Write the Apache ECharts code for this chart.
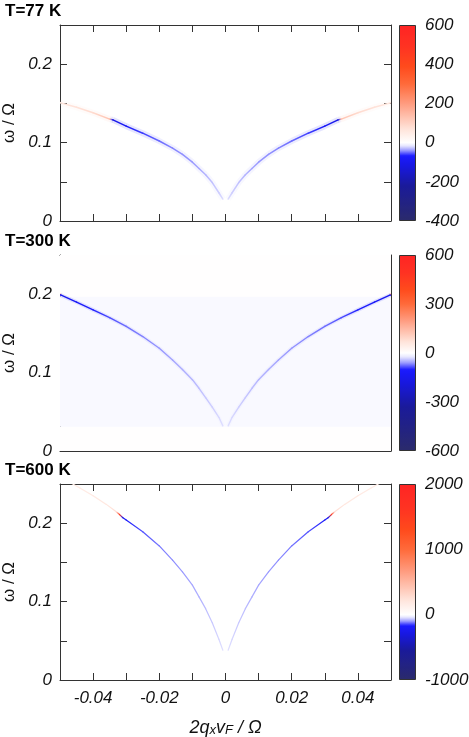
<!DOCTYPE html>
<html>
<head>
<meta charset="utf-8">
<script src="https://cdn.jsdelivr.net/npm/echarts@6/dist/echarts.min.js"></script>
<style>
  html, body { margin: 0; padding: 0; background: #fff; }
  #chart { width: 469px; height: 737px; }
</style>
</head>
<body>
<div id="chart"></div>
<script>
// panel titles and colour-bar ranges
const titles = ['T=77 K', 'T=300 K', 'T=600 K']
const cbMin = [-400, -600, -1000]
const cbMax = [600, 600, 2000]
const cbStep = [200, 300, 1000]

// T=77 K : left branch (q<0) and right branch (q>0)
const q77L = [-0.050, -0.045, -0.040, -0.035, -0.034, -0.030, -0.025, -0.020, -0.016, -0.013, -0.010, -0.008, -0.006, -0.004, -0.002, -0.0008]
const w77L = [0.151, 0.145, 0.138, 0.130, 0.129, 0.121, 0.112, 0.102, 0.093, 0.085, 0.075, 0.067, 0.059, 0.049, 0.036, 0.028]
const v77L = [60, 70, 85, 130, -110, -80, -60, -50, -45, -42, -40, -36, -32, -28, -24, -20]
const q77R = [0.0008, 0.002, 0.004, 0.006, 0.008, 0.010, 0.013, 0.016, 0.020, 0.025, 0.030, 0.034, 0.035, 0.040, 0.045, 0.050]
const w77R = [0.028, 0.036, 0.049, 0.059, 0.067, 0.075, 0.085, 0.093, 0.102, 0.112, 0.121, 0.129, 0.130, 0.138, 0.145, 0.151]
const v77R = [-20, -24, -28, -32, -36, -40, -42, -45, -50, -60, -80, -110, 130, 85, 70, 60]

// T=300 K
const q300L = [-0.050, -0.0498, -0.045, -0.040, -0.035, -0.030, -0.025, -0.020, -0.016, -0.013, -0.010, -0.008, -0.006, -0.004, -0.002, -0.0008]
const w300L = [0.200, 0.199, 0.190, 0.180, 0.170, 0.159, 0.146, 0.131, 0.116, 0.104, 0.091, 0.080, 0.068, 0.056, 0.043, 0.032]
const v300L = [300, -150, -120, -100, -85, -75, -68, -62, -56, -52, -48, -44, -40, -36, -32, -28]
const q300R = [0.0008, 0.002, 0.004, 0.006, 0.008, 0.010, 0.013, 0.016, 0.020, 0.025, 0.030, 0.035, 0.040, 0.045, 0.0498, 0.050]
const w300R = [0.032, 0.043, 0.056, 0.068, 0.080, 0.091, 0.104, 0.116, 0.131, 0.146, 0.159, 0.170, 0.180, 0.190, 0.199, 0.200]
const v300R = [-28, -32, -36, -40, -44, -48, -52, -56, -62, -68, -75, -85, -100, -120, -150, 300]
// T=300 K background bands (omega low, omega high, value)
const band300Lo = [0, 0.031, 0.197]
const band300Hi = [0.031, 0.197, 0.25]
const band300V = [2, -6, 2]

// T=600 K
const q600L = [-0.047, -0.044, -0.040, -0.036, -0.033, -0.032, -0.031, -0.030, -0.025, -0.020, -0.016, -0.013, -0.010, -0.008, -0.006, -0.004, -0.002, -0.0008]
const w600L = [0.252, 0.245, 0.235, 0.224, 0.2145, 0.211, 0.207, 0.204, 0.189, 0.171, 0.153, 0.138, 0.121, 0.106, 0.091, 0.073, 0.052, 0.038]
const v600L = [160, 170, 180, 200, 260, 1500, -230, -190, -140, -120, -108, -100, -92, -84, -75, -65, -55, -45]
const q600R = [0.0008, 0.002, 0.004, 0.006, 0.008, 0.010, 0.013, 0.016, 0.020, 0.025, 0.030, 0.031, 0.032, 0.033, 0.036, 0.040, 0.044, 0.047]
const w600R = [0.038, 0.052, 0.073, 0.091, 0.106, 0.121, 0.138, 0.153, 0.171, 0.189, 0.204, 0.207, 0.211, 0.2145, 0.224, 0.235, 0.245, 0.252]
const v600R = [-45, -55, -65, -75, -84, -92, -100, -108, -120, -140, -190, -230, 1500, 260, 200, 180, 170, 160]

const branches = [
  [[q77L, w77L, v77L], [q77R, w77R, v77R]],
  [[q300L, w300L, v300L], [q300R, w300R, v300R]],
  [[q600L, w600L, v600L], [q600R, w600R, v600R]]
]

const FONT = 'Liberation Sans'
const AXIS = '#333'
const tops = [25, 255, 484]
const plotH = 196
const haloW = [6, 4, 0]
const coreW = [1.5, 1.4, 1.2]

// colour map, white at 0, separate scaling for negative/positive side
const negStops = [[0, '#ffffff'], [0.04, '#e8e8ff'], [0.1, '#9a9aff'], [0.17, '#1a1aff'], [0.3, '#1818e0'], [0.55, '#1a1a9a'], [1, '#2b2b6b']]
const posStops = [[0, '#ffffff'], [0.12, '#ffe2d8'], [0.33, '#ff9c80'], [0.5, '#ff6a3a'], [0.65, '#ff4a1c'], [0.82, '#ff3222'], [1, '#ff2424']]

function hex (c) {
  return [1, 3, 5].map(i => parseInt(c.substr(i, 2), 16))
}
function fromStops (stops, t) {
  for (let i = 1; i < stops.length; i++) {
    if (t <= stops[i][0]) {
      const a = hex(stops[i - 1][1])
      const b = hex(stops[i][1])
      const f = (t - stops[i - 1][0]) / (stops[i][0] - stops[i - 1][0])
      return 'rgb(' + a.map((x, k) => Math.round(x + (b[k] - x) * f)).join(',') + ')'
    }
  }
  return stops[stops.length - 1][1]
}
function colorAt (v, min, max) {
  return v < 0 ? fromStops(negStops, v / min) : fromStops(posStops, v / max)
}
function palette (min, max, n) {
  const out = []
  for (let i = 0; i < n; i++) out.push(colorAt(min + (max - min) * i / (n - 1), min, max))
  return out
}

function xLabel (v) {
  const k = Math.round(v * 100)
  if (k % 2 !== 0 || Math.abs(k) === 5) return ''
  return k === 0 ? '0' : (k / 100).toFixed(2)
}
function yLabel (v) {
  const k = Math.round(v * 100)
  if (k % 10 !== 0) return ''
  return k === 0 ? '0' : (k / 100).toFixed(1)
}

// one segment from point i to point i+1, coloured through the visualMap
function segment (width, opacity, cap) {
  return function (params, api) {
    const i = params.dataIndexInside
    if (i >= params.dataInsideLength - 1) return null
    const a = api.coord([api.value(0, i), api.value(1, i)])
    const b = api.coord([api.value(0, i + 1), api.value(1, i + 1)])
    const grad = new echarts.graphic.LinearGradient(a[0], a[1], b[0], b[1], [
      { offset: 0, color: api.visual('color', i) },
      { offset: 1, color: api.visual('color', i + 1) }
    ], true)
    return {
      type: 'line',
      shape: { x1: a[0], y1: a[1], x2: b[0], y2: b[1] },
      style: { stroke: grad, lineWidth: width, opacity: opacity, lineCap: cap }
    }
  }
}

function bandItem (params, api) {
  const p0 = api.coord([api.value(0), api.value(4)])
  const p1 = api.coord([api.value(3), api.value(1)])
  return {
    type: 'rect',
    shape: { x: p0[0], y: p0[1], width: p1[0] - p0[0], height: p1[1] - p0[1] },
    style: { fill: api.visual('color') }
  }
}

function colorbarItem (min, max) {
  return function (params, api) {
    const p0 = api.coord([api.value(0), api.value(3)])
    const p1 = api.coord([api.value(2), api.value(1)])
    const stops = []
    for (let i = 0; i <= 120; i++) {
      stops.push({ offset: i / 120, color: colorAt(max - (max - min) * i / 120, min, max) })
    }
    return {
      type: 'rect',
      shape: { x: p0[0] + 0.5, y: p0[1] + 0.5, width: p1[0] - p0[0] - 1, height: p1[1] - p0[1] - 1 },
      style: { fill: new echarts.graphic.LinearGradient(0, 0, 0, 1, stops), stroke: AXIS, lineWidth: 1 }
    }
  }
}

const labelStyle = { fontFamily: FONT, fontStyle: 'italic', fontSize: 17, color: '#111' }
const grid = []
const xAxis = []
const yAxis = []
const series = []
const visualMap = []
const title = []

for (let p = 0; p < 3; p++) {
  grid.push({ left: 60, top: tops[p], width: 331, height: plotH, outerBoundsMode: 'none' })
  grid.push({ left: 399, top: tops[p], width: 17, height: plotH, outerBoundsMode: 'none' })
  title.push({
    text: titles[p], left: 5, top: tops[p] - 22, padding: 0,
    textStyle: { fontFamily: FONT, fontWeight: 'bold', fontSize: 17, color: '#000' }
  })
  const g = 2 * p
  const xBase = {
    gridIndex: g, type: 'value', min: -0.05, max: 0.05, interval: 0.01,
    axisLine: { onZero: false, lineStyle: { color: AXIS } },
    axisTick: { inside: true, length: 7, lineStyle: { color: AXIS } },
    splitLine: { show: false }
  }
  xAxis.push(Object.assign({}, xBase, {
    position: 'bottom',
    axisLabel: Object.assign({ show: p === 2, formatter: xLabel, margin: 10 }, labelStyle),
    name: p === 2 ? '{a|2q}{s|x}{a|v}{s|F}{a| / Ω}' : '',
    nameLocation: 'middle',
    nameGap: 39,
    nameTextStyle: {
      rich: {
        a: { fontFamily: FONT, fontStyle: 'italic', fontSize: 18, color: '#111', verticalAlign: 'top', lineHeight: 18 },
        s: { fontFamily: FONT, fontStyle: 'italic', fontSize: 13, color: '#111', verticalAlign: 'bottom', lineHeight: 13, padding: [8, 0, 0, 0] }
      }
    }
  }))
  xAxis.push(Object.assign({}, xBase, { position: 'top', axisLabel: { show: false } }))
  xAxis.push({ gridIndex: g + 1, type: 'value', min: 0, max: 1, show: false })

  const yBase = {
    gridIndex: g, type: 'value', min: 0, max: 0.25, interval: 0.05,
    axisLine: { onZero: false, lineStyle: { color: AXIS } },
    axisTick: { inside: true, length: 7, lineStyle: { color: AXIS } },
    splitLine: { show: false }
  }
  yAxis.push(Object.assign({}, yBase, {
    position: 'left',
    axisLabel: Object.assign({ formatter: yLabel, margin: 8 }, labelStyle),
    name: 'ω / Ω', nameLocation: 'middle', nameGap: 34,
    nameTextStyle: { fontFamily: FONT, fontSize: 17, color: '#111' }
  }))
  yAxis.push(Object.assign({}, yBase, { position: 'right', axisLabel: { show: false } }))
  yAxis.push({
    gridIndex: g + 1, type: 'value', min: cbMin[p], max: cbMax[p], interval: cbStep[p], position: 'right',
    axisLine: { show: false }, axisTick: { show: false }, splitLine: { show: false },
    axisLabel: Object.assign({ margin: 9, formatter: v => String(v) }, labelStyle)
  })

  const ax = 3 * p
  const idx = []
  if (p === 1) {
    idx.push(series.length)
    series.push({
      type: 'custom', xAxisIndex: ax, yAxisIndex: ax, clip: true, silent: true,
      encode: { x: [0, 3], y: [1, 4] },
      data: band300Lo.map((lo, i) => [-0.05, lo, band300V[i], 0.05, band300Hi[i]]),
      renderItem: bandItem
    })
  }
  branches[p].forEach(function (br) {
    const data = br[0].map((q, i) => [q, br[1][i], br[2][i]])
    if (haloW[p] > 0) {
      idx.push(series.length)
      series.push({
        type: 'custom', xAxisIndex: ax, yAxisIndex: ax, clip: true, silent: true,
        encode: { x: 0, y: 1 }, data: data, renderItem: segment(haloW[p], 0.12, 'butt')
      })
    }
  })
  branches[p].forEach(function (br) {
    const data = br[0].map((q, i) => [q, br[1][i], br[2][i]])
    idx.push(series.length)
    series.push({
      type: 'custom', xAxisIndex: ax, yAxisIndex: ax, clip: true, silent: true,
      encode: { x: 0, y: 1 }, data: data, renderItem: segment(coreW[p], 1, 'round')
    })
  })
  visualMap.push({
    type: 'continuous', show: false, dimension: 2, seriesIndex: idx,
    min: cbMin[p], max: cbMax[p], inRange: { color: palette(cbMin[p], cbMax[p], 121) }
  })
  series.push({
    type: 'custom', xAxisIndex: ax + 2, yAxisIndex: ax + 2, silent: true,
    encode: { x: [0, 2], y: [1, 3] },
    data: [[0, cbMin[p], 1, cbMax[p]]],
    renderItem: colorbarItem(cbMin[p], cbMax[p])
  })
}

const chart = echarts.init(document.getElementById('chart'))
chart.setOption({
  animation: false,
  backgroundColor: '#fff',
  title: title,
  grid: grid,
  xAxis: xAxis,
  yAxis: yAxis,
  visualMap: visualMap,
  series: series
})
</script>
</body>
</html>
